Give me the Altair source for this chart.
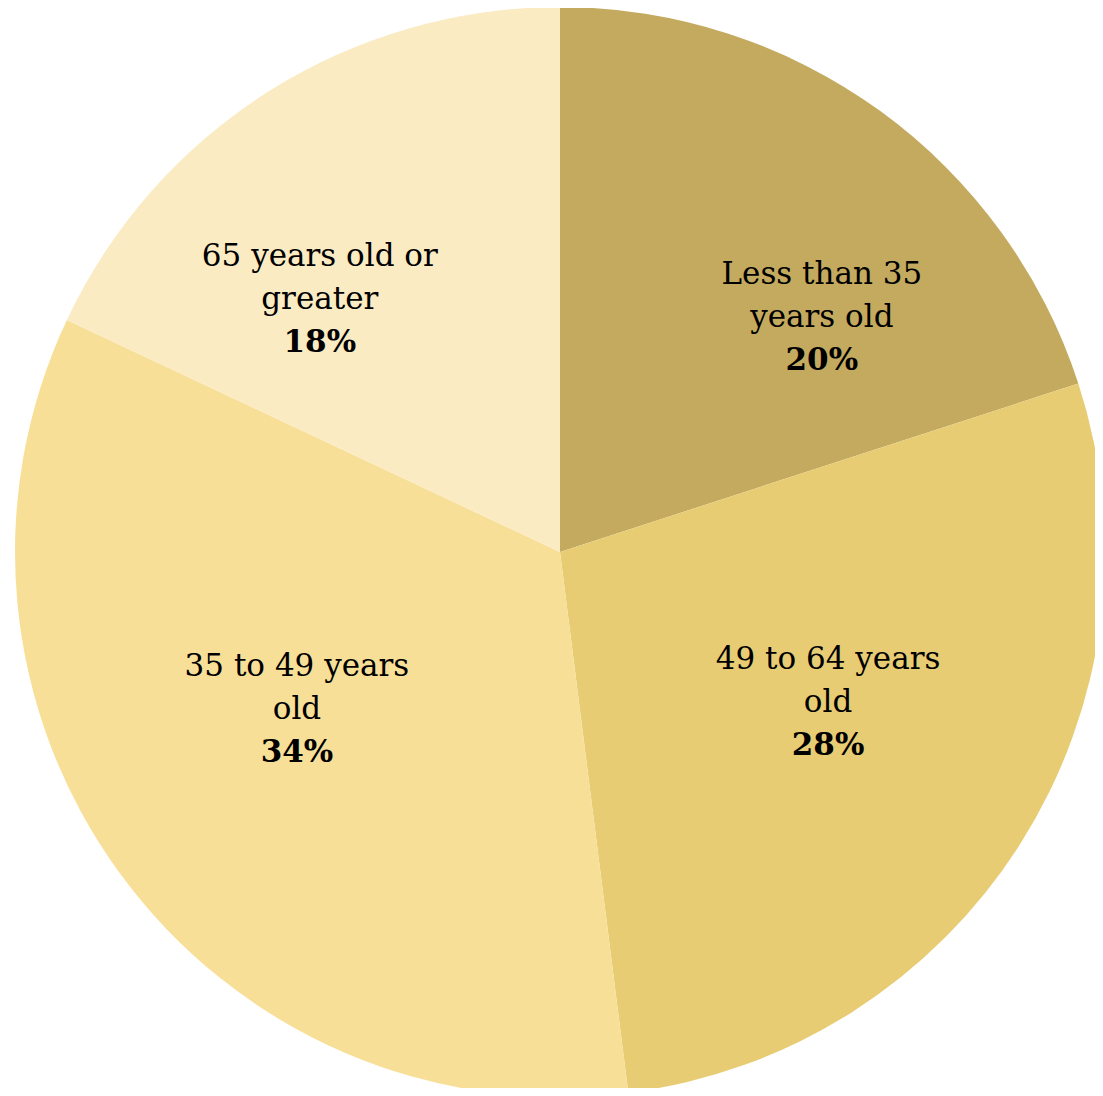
import altair as alt
import pandas as pd
import math

categories = ["Less than 35 years old", "49 to 64 years old", "35 to 49 years old", "65 years old or greater"]
name_lines = [["Less than 35", "years old"], ["49 to 64 years", "old"], ["35 to 49 years", "old"], ["65 years old or", "greater"]]
values = [20, 28, 34, 18]
pct_labels = ["20%", "28%", "34%", "18%"]
colors = ["#C4AA5E", "#E8CC74", "#F8DF98", "#FBEBC3"]

df = pd.DataFrame({
    "category": categories,
    "order": list(range(len(categories))),
    "value": values,
    "name": name_lines,
    "pct": pct_labels,
})

# label offsets (pixels) relative to the mid-angle anchor
offsets = [(62, 41), (-19, -31), (12, -42), (-58, 35)]

CX, CY, R, LR = 552, 544, 545, 340
FONT = "DejaVu Serif"
FS = 31
LH = 43

pie = alt.Chart(df).mark_arc(radius=R, x=CX, y=CY, stroke=None).encode(
    theta=alt.Theta("value:Q", stack=True),
    order=alt.Order("order:Q"),
    color=alt.Color("category:N", scale=alt.Scale(domain=categories, range=colors), legend=None),
)

lab = alt.Chart(df).transform_joinaggregate(
    total="sum(value)"
).transform_window(
    cum="sum(value)", sort=[alt.SortField("order")], frame=[None, 0]
).transform_calculate(
    mid="(datum.cum - datum.value / 2) / datum.total"
)

theta_enc = alt.Theta("mid:Q", scale=alt.Scale(domain=[0, 1], range=[0, 2 * math.pi]), stack=None)

layers = [pie]
for i, cat in enumerate(categories):
    dx, dy = offsets[i]
    sub = lab.transform_filter(alt.datum.category == cat)
    layers.append(
        sub.mark_text(radius=LR, x=CX, y=CY, dx=dx, dy=dy - LH, font=FONT, fontSize=FS,
                      lineHeight=LH, color="black", align="center", baseline="middle").encode(
            theta=theta_enc, text="name")
    )
    layers.append(
        sub.mark_text(radius=LR, x=CX, y=CY, dx=dx, dy=dy + LH, font=FONT, fontSize=FS,
                      fontWeight="bold", color="black", align="center", baseline="middle").encode(
            theta=theta_enc, text="pct:N")
    )

chart = alt.layer(*layers).resolve_scale(theta="independent").properties(
    width=1087, height=1080, autosize=alt.AutoSizeParams(type="none"), padding=0
).configure_view(stroke=None)

chart.save("out.html", embed_options={"renderer": "svg", "actions": False})
